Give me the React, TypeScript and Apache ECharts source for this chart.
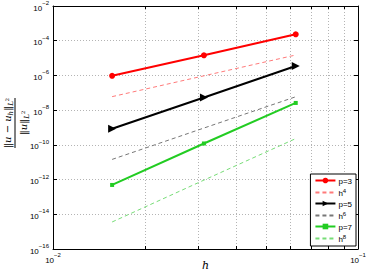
import React, { useEffect, useRef } from "react";
import * as echarts from "echarts";

const H = [1 / 64, 1 / 32, 1 / 16];
const P3 = [9.5e-7, 1.44e-5, 2.33e-4];
const H4 = [6.0e-8, 9.5e-7, 1.5e-5];
const P5 = [8.4e-10, 5.4e-8, 3.47e-6];
const H6 = [1.45e-11, 9.3e-10, 5.9e-8];
const P7 = [4.9e-13, 1.2e-10, 2.6e-8];
const H8 = [3.6e-15, 9.3e-13, 2.3e-10];
const X_TICKS = [0.01, 0.02, 0.03, 0.04, 0.05, 0.06, 0.07, 0.08, 0.09, 0.1];
const X_LABELS = [0.01, 0.1];
const LEGEND_NAMES = ["p=3", "h^4", "p=5", "h^6", "p=7", "h^8"];

const FONT = "Liberation Sans, Arial, sans-serif";

const pairs = (ys: number[]) => H.map((h, i) => [h, ys[i]]);

const expLabel = (v: number) => {
  const e = Math.round(Math.log10(v));
  return "{b|10}{s|" + (e < 0 ? "\u2212" + -e : String(e)) + "}";
};

const tickRich = {
  b: { fontSize: 8, fontFamily: FONT, color: "#000", lineHeight: 12, verticalAlign: "bottom" },
  s: { fontSize: 6, fontFamily: FONT, color: "#000", lineHeight: 12, verticalAlign: "top" },
};

export default function App() {
  const ref = useRef<HTMLDivElement>(null);
  useEffect(() => {
    if (!ref.current) return;
    const chart = echarts.init(ref.current, undefined, { renderer: "svg" });
    const axisLine = { show: true, lineStyle: { color: "#000", width: 1 } };
    const gridLine = { show: true, lineStyle: { color: "#b4b4b4", type: [1, 2], width: 1 } };
    const serif = "DejaVu Serif, serif";
    const labelRich = {
      n: { fontSize: 10, fontFamily: serif, fontStyle: "italic", fill: "#000", lineHeight: 14, verticalAlign: "middle" },
      sb: { fontSize: 7, fontFamily: serif, fontStyle: "italic", fill: "#000", lineHeight: 14, verticalAlign: "bottom" },
      sp: { fontSize: 5, fontFamily: serif, fill: "#000", lineHeight: 14, verticalAlign: "middle" },
    };
    const option: any = {
      animation: false,
      backgroundColor: "#fff",
      grid: { left: 53, top: 6, right: 8, bottom: 25, containLabel: false, outerBoundsMode: "none" },
      xAxis: [
        {
          type: "log",
          logBase: 10,
          min: 0.01,
          max: 0.1,
          position: "bottom",
          axisLine,
          axisTick: { show: true, inside: true, length: 3, customValues: X_TICKS, lineStyle: { color: "#000" } },
          axisLabel: {
            show: true,
            customValues: X_LABELS,
            formatter: expLabel,
            rich: tickRich,
            margin: 3,
            showMinLabel: true,
            showMaxLabel: true,
            hideOverlap: false,
          },
          splitLine: gridLine,
          name: "h",
          nameLocation: "middle",
          nameGap: 11,
          nameMoveOverlap: false,
          nameTextStyle: { fontFamily: serif, fontStyle: "italic", fontSize: 11, color: "#000" },
        },
        {
          type: "log",
          logBase: 10,
          min: 0.01,
          max: 0.1,
          position: "top",
          axisLine,
          axisTick: { show: true, inside: true, length: 3, customValues: X_TICKS, lineStyle: { color: "#000" } },
          axisLabel: { show: false },
          splitLine: { show: false },
        },
      ],
      yAxis: [
        {
          type: "log",
          logBase: 10,
          min: 1e-16,
          max: 1e-2,
          interval: 2,
          position: "left",
          axisLine,
          axisTick: { show: true, inside: true, length: 4, lineStyle: { color: "#000" } },
          axisLabel: { formatter: expLabel, rich: tickRich, margin: 4, showMinLabel: true, showMaxLabel: true },
          splitLine: gridLine,
        },
        {
          type: "log",
          logBase: 10,
          min: 1e-16,
          max: 1e-2,
          interval: 2,
          position: "right",
          axisLine,
          axisTick: { show: true, inside: true, length: 4, lineStyle: { color: "#000" } },
          axisLabel: { show: false },
          splitLine: { show: false },
        },
      ],
      legend: {
        orient: "vertical",
        right: 10,
        bottom: 28,
        itemWidth: 20,
        itemHeight: 7,
        itemGap: 3,
        padding: [3, 4, 3, 4],
        borderColor: "#000",
        borderWidth: 1,
        backgroundColor: "#fff",
        data: LEGEND_NAMES.map((n) => (n.startsWith("h^") ? { name: n, itemStyle: { opacity: 0 } } : { name: n })),
        formatter: (n: string) => {
          if (n.startsWith("h^")) return "{t|h}{s|" + n.slice(2) + "}";
          return "{t|" + n + "}";
        },
        textStyle: {
          fontSize: 8,
          fontFamily: FONT,
          color: "#000",
          padding: [0, 0, 0, -2],
          rich: {
            t: { fontSize: 8, fontFamily: FONT, color: "#000", lineHeight: 9, verticalAlign: "bottom" },
            s: { fontSize: 6, fontFamily: FONT, color: "#000", lineHeight: 9, verticalAlign: "top" },
          },
        },
      },
      graphic: [
        {
          type: "group",
          x: 15,
          y: 123,
          rotation: Math.PI / 2,
          children: [
            {
              type: "text",
              x: 0,
              y: -1,
              style: {
                text: "{n|\u2016u \u2212 u}{sb|h}{n|\u2016}{sb|L}{sp|2}",
                align: "center",
                verticalAlign: "bottom",
                rich: labelRich,
              },
            },
            {
              type: "line",
              shape: { x1: -25, y1: 0, x2: 25, y2: 0 },
              style: { stroke: "#000", lineWidth: 1 },
            },
            {
              type: "text",
              x: 0,
              y: 1,
              style: {
                text: "{n|\u2016u\u2016}{sb|L}{sp|2}",
                align: "center",
                verticalAlign: "top",
                rich: labelRich,
              },
            },
          ],
        },
      ],
      series: [
        {
          name: "p=3",
          type: "line",
          data: pairs(P3),
          color: "#ff0000",
          lineStyle: { width: 2, color: "#ff0000" },
          symbol: "circle",
          symbolSize: 6,
          itemStyle: { color: "#ff0000" },
        },
        {
          name: "h^4",
          type: "line",
          data: pairs(H4),
          color: "#ff7a7a",
          lineStyle: { width: 1, type: [4, 3], color: "#ff7a7a" },
          symbol: "none",
        },
        {
          name: "p=5",
          type: "line",
          data: pairs(P5),
          color: "#000",
          lineStyle: { width: 2, color: "#000" },
          symbol: "triangle",
          symbolRotate: -90,
          symbolSize: 8,
          itemStyle: { color: "#000" },
        },
        {
          name: "h^6",
          type: "line",
          data: pairs(H6),
          color: "#777",
          lineStyle: { width: 1, type: [4, 3], color: "#777" },
          symbol: "none",
        },
        {
          name: "p=7",
          type: "line",
          data: pairs(P7),
          color: "#22cc22",
          lineStyle: { width: 2, color: "#22cc22" },
          symbol: "rect",
          symbolSize: 4,
          itemStyle: { color: "#22cc22" },
        },
        {
          name: "h^8",
          type: "line",
          data: pairs(H8),
          color: "#77dd77",
          lineStyle: { width: 1, type: [4, 3], color: "#77dd77" },
          symbol: "none",
        },
      ],
    };
    chart.setOption(option);
    return () => chart.dispose();
  }, []);
  return <div ref={ref} style={{ width: 366, height: 274, position: "absolute", left: 0, top: 0 }} />;
}
